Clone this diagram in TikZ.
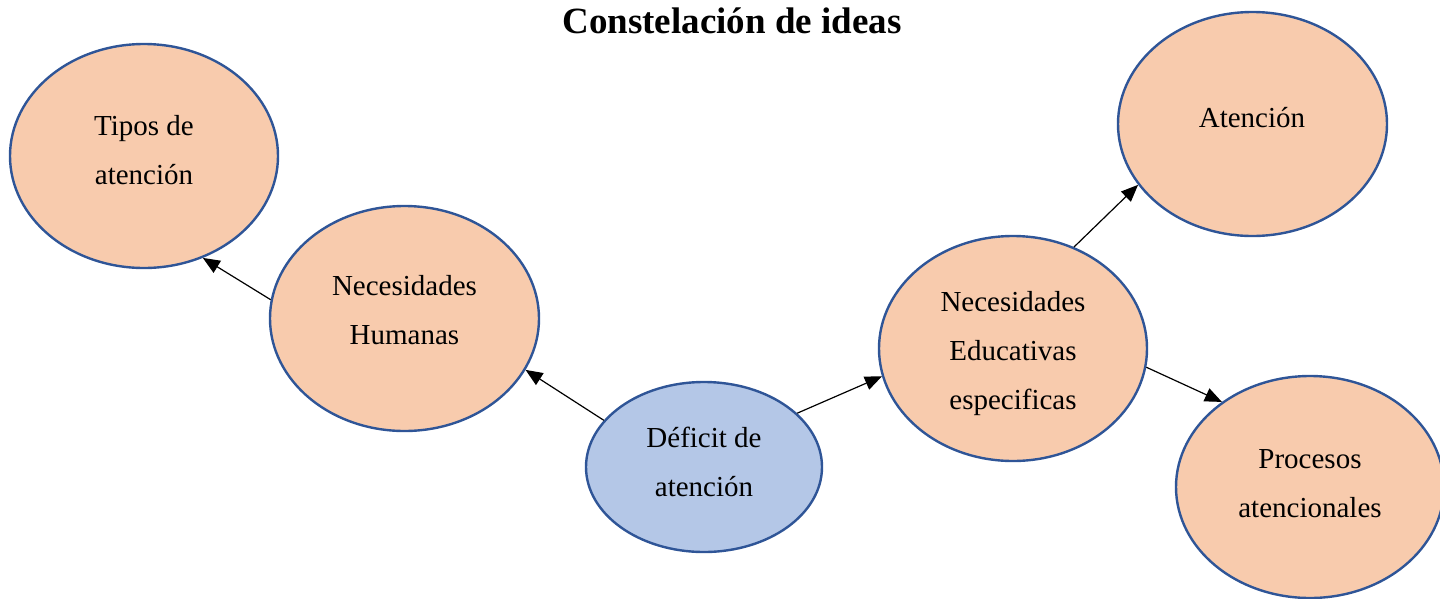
\documentclass[tikz,border=0pt]{standalone}
\usepackage{fontspec}
\setmainfont{Liberation Serif}
\usetikzlibrary{shapes.geometric,arrows.meta}
\definecolor{peach}{HTML}{F8CBAD}
\definecolor{paleblue}{HTML}{B4C7E7}
\definecolor{edgeblue}{HTML}{2F5597}
\tikzset{
  bubble/.style={ellipse, draw=edgeblue, line width=2.4pt, fill=peach, inner sep=0pt, minimum width=268pt, minimum height=224pt},
  bluebubble/.style={bubble, fill=paleblue, minimum width=236pt, minimum height=170pt},
  txt/.style={font=\fontsize{29}{49}\selectfont, align=center, anchor=base, inner sep=0pt},
  arr/.style={-{Triangle[length=17pt,width=14pt]}, line width=1.2pt, black},
}
\begin{document}
\begin{tikzpicture}[x=1pt,y=-1pt]
\useasboundingbox (0,0) rectangle (1440,598);
\node[font=\fontsize{37}{40}\selectfont\bfseries, anchor=base, inner sep=0pt] (title) at (732,33) {Constelación de ideas};
\node[bubble] (tipos) at (144,156) {};
\node[bubble, minimum width=269pt, minimum height=225pt] (nh) at (404.5,318.5) {};
\node[bluebubble] (def) at (704,467) {};
\node[bubble, minimum height=225pt] (ne) at (1013,348.5) {};
\node[bubble, minimum width=269pt] (aten) at (1252.5,124) {};
\node[bubble, minimum height=222pt] (proc) at (1310,487) {};
\node[txt] (ttipos) at (144,184) {Tipos de\\atención};
\node[txt] (tnh) at (404.5,344) {Necesidades\\Humanas};
\node[txt] (tdef) at (704,496) {Déficit de\\atención};
\node[txt] (tne) at (1013,409) {Necesidades\\Educativas\\especificas};
\node[txt] (taten) at (1252,127) {Atención};
\node[txt] (tproc) at (1310,517) {Procesos\\atencionales};
\draw[arr] (nh.172) -- (tipos.-60.4);
\draw[arr] (def.155.3) -- (nh.-23.1);
\draw[arr] (def.30.7) -- (ne.192);
\draw[arr] (ne.59.4) -- (aten.208.6);
\draw[arr] (ne.-8.3) -- (proc.136.6);
\end{tikzpicture}
\end{document}
